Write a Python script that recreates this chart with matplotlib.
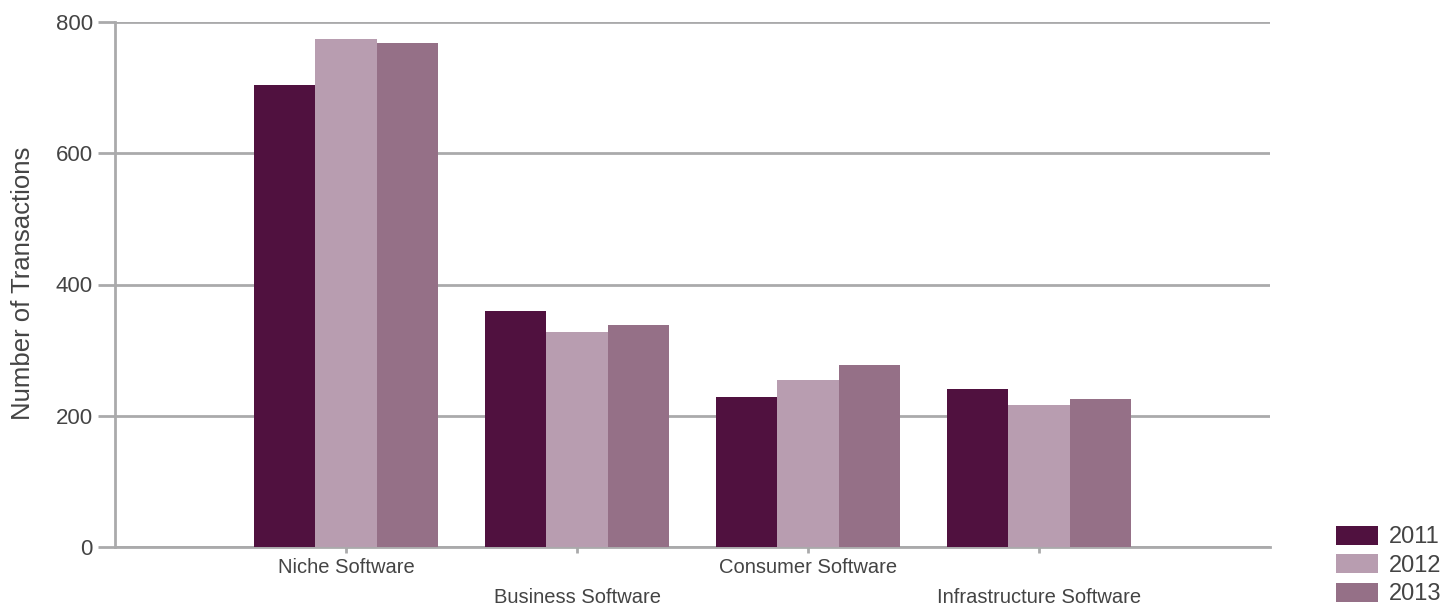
import matplotlib
matplotlib.use("Agg")
import matplotlib.pyplot as plt
import numpy as np
from matplotlib.patches import Patch

categories = ["Niche Software", "Business Software", "Consumer Software", "Infrastructure Software"]
years = ["2011", "2012", "2013"]
values_2011 = [704, 360, 229, 241]
values_2012 = [774, 328, 254, 216]
values_2013 = [768, 338, 277, 225]
yticks = [0, 200, 400, 600, 800]

colors = ["#50113f", "#b89db0", "#957087"]
grid_c = "#aaaaab"
text_c = "#444444"

plt.rcParams['font.family'] = ['Liberation Sans', 'DejaVu Sans']

W, H = 1453, 606
fig = plt.figure(figsize=(W / 100, H / 100), dpi=100)
ax = fig.add_axes([115 / W, (H - 547) / H, (1270 - 115) / W, (547 - 22) / H])

x = np.arange(len(categories))
bw = 0.8 / 3
series = [values_2011, values_2012, values_2013]
for i, (vals, c) in enumerate(zip(series, colors)):
    ax.bar(x + (i - 1) * bw, vals, width=bw, color=c, zorder=3, linewidth=0)

ax.set_xlim(-1, 4)
ax.set_ylim(0, 800)
ax.set_yticks(yticks)
ax.set_yticklabels([str(v) for v in yticks], fontsize=16, color=text_c)
ax.yaxis.grid(True, color=grid_c, linewidth=2, zorder=0)
ax.tick_params(axis='y', length=12, width=2, color=grid_c, pad=4)

ax.set_xticks(x)
ax.set_xticklabels(categories, fontsize=14.5, color=text_c)
ax.tick_params(axis='x', length=4, width=2, color=grid_c)
for i, t in enumerate(ax.xaxis.get_major_ticks()):
    t.set_pad(4 if i % 2 == 0 else 25.5)

for s in ["top", "right"]:
    ax.spines[s].set_visible(False)
for s in ["left", "bottom"]:
    ax.spines[s].set_color(grid_c)
    ax.spines[s].set_linewidth(2)

fig.text(23 / W, (H - 283) / H, "Number of Transactions", rotation=90, fontsize=18.5,
         color=text_c, ha="center", va="center")

handles = [Patch(facecolor=c, edgecolor='none') for c in colors]
fig.legend(handles, years, loc="lower left", bbox_to_anchor=(1334 / W, -0.003),
           frameon=False, fontsize=17, handlelength=1.78, handleheight=0.85,
           labelspacing=0.25, handletextpad=0.45, labelcolor=text_c,
           borderaxespad=0, borderpad=0.1)

fig.savefig("out.png", dpi=100)
